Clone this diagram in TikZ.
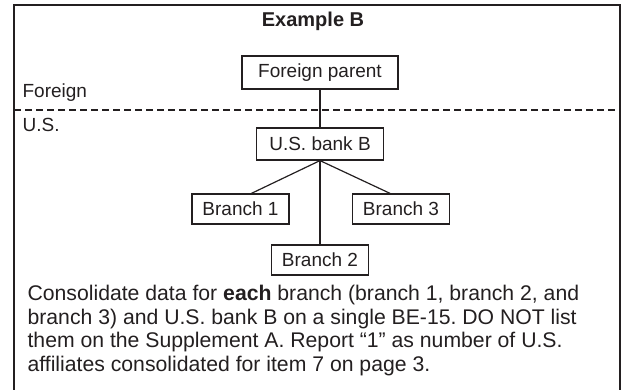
\documentclass[tikz,border=0pt]{standalone}
\usepackage{fontspec}
\setmainfont{Liberation Sans}
\frenchspacing
\definecolor{ink}{HTML}{231F20}
\newcommand*{\BoxFont}{\fontsize{19}{23}\selectfont}
\newcommand*{\NoteFont}{\fontsize{21.2}{23.5}\selectfont}
\begin{document}
\begin{tikzpicture}[x=1pt, y=-1pt, line width=1.2pt, color=ink,
        entity/.style={draw, inner sep=0pt, minimum height=31pt, font=\BoxFont},
        region/.style={anchor=base west, inner sep=0pt, font=\BoxFont}]
    \useasboundingbox (0,0) rectangle (621,390);
    % outer frame (runs off the page at the bottom)
    \draw[line width=2.5pt] (14,5) rectangle (620.5,420);

    \node[font=\bfseries\fontsize{20}{24}\selectfont] (title) at (313,21.5) {Example B};

    % foreign / U.S. border
    \coordinate (borderW) at (14,110);
    \coordinate (borderE) at (621,110);
    \draw[dash pattern=on 7pt off 4pt] (borderW) -- (borderE);
    \node[region] (foreign) at (22,98) {Foreign};
    \node[region] (us) at (22,132) {U.S.};

    \node[entity, minimum width=156pt, minimum height=33pt] (parent) at (320,72.5) {Foreign parent};
    \node[entity, minimum width=127pt, minimum height=32pt] (bank) at (320,144) {U.S. bank B};
    \draw (parent.south) -- (bank.north);

    \foreach \n/\x/\y/\a in {1/240.5/209/55, 2/320/260/90, 3/401/209/125} {
        \node[entity, minimum width=97pt, minimum height=30pt] (branch\n) at (\x,\y) {Branch \n};
        \draw (bank.south) -- (branch\n.\a);
    }

    \node[anchor=north west, inner sep=0pt, align=left, font=\NoteFont] (note) at (27,285)
        {Consolidate data for \textbf{each} branch (branch 1, branch 2, and\\
         branch 3) and U.S. bank B on a single BE-15. DO NOT list\\
         them on the Supplement A. Report “1” as number of U.S.\\
         affiliates consolidated for item 7 on page 3.};
\end{tikzpicture}
\end{document}
